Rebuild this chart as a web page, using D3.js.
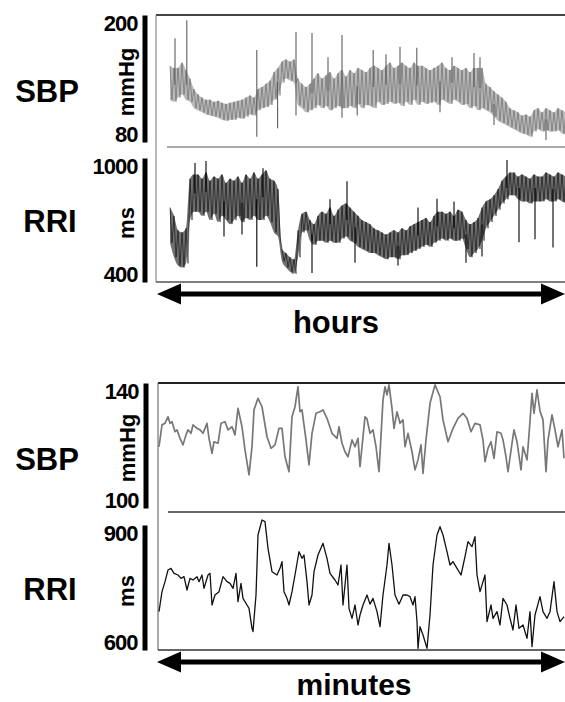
<!DOCTYPE html>
<html>
<head>
<meta charset="utf-8">
<script src="https://cdnjs.cloudflare.com/ajax/libs/d3/7.8.5/d3.min.js"></script>
<style>
  body { margin: 0; background: #fff; }
  text { font-family: "Liberation Sans", Arial, sans-serif; font-weight: bold; }
</style>
</head>
<body>
<svg id="chart" width="565" height="702"></svg>
<script>
// ---- hours panel: beat-to-beat band, upper / lower edge per time slot ----
var sbpHoursHi = [152,150,150,155,148,140,130,125,122,120, 120,118,119,117,116,117,118,119,120,122,
                  124,122,130,132,135,138,146,150,156,158, 156,158,140,135,132,135,140,145,140,143,
                  146,140,145,148,142,148,145,150,148,146, 150,152,150,148,152,155,150,152,155,152,
                  150,155,152,152,150,148,150,152,155,150, 148,152,150,148,150,146,150,150,150,135,
                  132,128,125,122,118,112,110,108,105,106, 104,110,112,108,112,110,108,112,110,108];
var sbpHoursLo = [120,118,122,125,120,118,112,110,108,106, 105,104,103,101,100,101,101,103,102,104,
                  106,105,110,112,113,115,120,124,136,140, 138,136,115,112,108,110,112,115,112,114,
                  110,112,114,112,112,114,112,116,112,115, 114,112,118,115,116,118,116,117,114,118,
                  115,120,115,118,116,117,118,115,120,118, 116,120,118,115,116,112,114,110,112,110,
                  108,104,100,98,96,94,92,90,88,87, 85,90,92,90,91,90,90,91,88,87];
var sbpSpikeIdx = [1.25, 4.2, 21.7, 21.7, 26.9, 31.5, 31.5, 35.5, 43, 43, 50.8, 57.5, 61.7, 76, 77.5, 46.8, 67.5, 39.5, 54, 70.5, 81, 94];
var sbpSpikeVal = [178, 195, 167, 85, 93, 184, 105, 183, 181, 103, 167, 170, 169, 164, 160, 105, 108, 160, 163, 160, 96, 82];

var rriHoursHi = [760,720,650,640,660,900,920,920,900,930, 890,910,900,920,880,900,890,910,880,920,
                  900,930,900,920,940,900,890,850,560,540, 520,510,650,730,740,700,680,720,740,730,
                  760,720,750,770,780,760,740,720,700,690, 680,660,650,640,630,640,650,640,660,650,
                  670,680,690,700,710,690,720,740,740,730, 740,720,750,740,700,680,690,710,760,790,
                  800,820,850,890,910,930,930,910,920,910, 900,920,910,910,930,920,910,930,920,910];
var rriHoursLo = [590,520,480,470,490,700,740,740,720,740, 700,730,690,720,700,680,700,720,690,710,
                  700,720,700,700,720,690,640,620,500,470, 450,440,520,640,650,600,580,600,600,590,
                  600,590,590,610,620,600,590,570,560,550, 540,540,530,520,510,520,520,510,530,530,
                  540,550,560,570,580,570,590,600,610,600, 610,600,600,610,560,520,540,560,600,660,
                  690,720,750,780,800,820,820,800,790,790, 780,790,790,790,800,790,790,800,790,780];
var rriSpikeIdx = [6.25, 21.7, 23.25, 35.5, 44.25, 46.25, 66.75, 74, 78, 84.25, 87.25, 91.25, 95.75, 13.5, 18, 9, 40, 57, 62, 71];
var rriSpikeVal = [976, 474, 951, 444, 887, 493, 803, 493, 523, 990, 592, 607, 567, 620, 630, 985, 800, 480, 760, 790];

// ---- minutes panel: single traces (time, value) ----
var sbpMinT = [1,4,7,10,12,14,17,19,22,25,28,30,33,35,39,42,45,49,51,54,56,60,63,67,70,74,77,80,84,87,
               91,94,96,100,104,109,113,117,121,124,127,131,134,137,140,142,144,148,151,154,158,162,165,169,174,
               179,181,184,187,190,194,197,200,
               202,207,209,212,215,218,221,225,227,229,231,234,236,239,242,245,247,250,254,257,260,263,265,268,
               272,277,282,285,290,295,300,305,309,313,317,322,325,327,330,333,336,339,343,345,348,350,354,356,
               359,363,365,369,371,374,376,379,382,385,388,390,394,397,400,404,406];
var sbpMinV = [119.6,126.6,127.1,129.2,127.1,127.6,124.4,125,122.3,120.2,123.4,125,123.9,126.6,125.5,125,123.9,127.1,
               122.3,117.5,121.2,120.7,127.1,127.6,125,126,123.4,131.9,126,118.6,110.6,119.6,131.4,135.1,132.4,122.8,
               119.1,120.2,125.5,125.5,116.4,111.6,129.2,132.4,138.8,130.8,131.4,121.8,113.8,123.9,130.3,130.8,131.4,
               128.7,123.9,122.3,126,120.7,118,116.4,121.8,119.6,122.3,
               113.2,129.2,128.5,123.9,125,119.6,111.6,134.6,138.8,136.2,139.4,131.9,125.5,130.8,127.1,128.2,119.6,
               123.9,118,112.2,115.4,120.2,111.1,121.8,133.5,139.4,135.6,128.2,121.2,125.5,128.7,130.3,128.7,124.4,
               127.1,126.6,121.8,114.8,119.1,121.2,115.9,124.4,123.9,121.8,116.4,111.6,120.7,125,121.2,112.2,119.6,
               115.4,123.4,136.7,130.3,137.8,131,128.2,111.6,121.8,129.8,125,119.6,125,115.9];

var rriMinT = [1,4,7,10,13,16,20,23,26,29,32,35,39,41,44,46,50,52,54,57,61,65,69,72,75,78,80,83,85,89,
               91,94,95,98,100,104,107,110,114,119,122,124,126,129,131,134,137,141,144,146,149,151,154,156,160,
               165,169,172,177,180,183,185,189,191,194,197,200,
               202,205,209,212,215,219,222,225,229,231,234,237,241,245,249,252,255,257,259,260,262,265,269,272,
               275,279,282,285,289,292,295,299,303,307,310,314,317,319,322,325,327,329,333,335,339,342,345,349,
               352,355,358,361,365,369,372,374,377,382,385,389,392,396,399,402,406];
var rriMinV = [692,740,764,792,796,784,780,772,776,744,772,768,776,764,780,748,780,784,708,732,740,776,764,760,748,
               784,716,760,724,708,700,652,644,732,876,912,908,844,788,780,796,812,740,724,708,740,780,836,820,828,
               764,708,732,788,828,856,820,784,768,756,804,708,804,700,676,708,660,
               684,708,732,710,724,692,656,732,804,856,804,732,710,732,732,728,708,728,668,604,656,636,604,684,
               804,876,896,876,836,804,812,796,780,824,860,848,872,780,740,764,780,668,708,676,692,660,724,708,
               676,648,708,652,660,628,692,608,684,728,692,676,692,764,692,668,680];

var svg = d3.select("#chart");

// scales
var xHours = d3.scaleLinear().domain([0, 99]).range([170, 566]);
var ySbpH = d3.scaleLinear().domain([80, 200]).range([142, 15]);
var yRriH = d3.scaleLinear().domain([400, 1000]).range([282, 158]);
var xMin = d3.scaleLinear().domain([0, 410]).range([158, 568]);
var ySbpM = d3.scaleLinear().domain([100, 140]).range([508, 383]);
var yRriM = d3.scaleLinear().domain([600, 900]).range([650, 525]);

function hline(y, x1, x2, color, w) {
  svg.append("line").attr("x1", x1).attr("x2", x2).attr("y1", y).attr("y2", y)
     .attr("stroke", color).attr("stroke-width", w);
}
function vline(x, y1, y2, color, w) {
  svg.append("line").attr("x1", x).attr("x2", x).attr("y1", y1).attr("y2", y2)
     .attr("stroke", color).attr("stroke-width", w);
}

// boxes
hline(15, 156, 570, "#444", 2);
vline(156, 15, 282, "#777", 1);
hline(147, 167, 570, "#aaa", 2);
hline(282, 156, 570, "#555", 1.5);

hline(383, 158, 570, "#222", 2);
vline(158, 383, 650, "#555", 1);
hline(512, 168, 570, "#333", 1.5);
hline(650, 158, 570, "#333", 1.5);

// band trace: filled envelope + zig-zag between edges + spikes
function band(hi, lo, y, fill, fillOp, stroke, sIdx, sVal) {
  var pts = [];
  hi.forEach(function(v, i) { pts.push([i, v]); pts.push([i + 0.5, lo[i]]); });
  svg.append("path")
     .attr("d", d3.area().x(function(d, i){ return xHours(i); })
                 .y0(function(d, i){ return y(lo[i]); })
                 .y1(function(d){ return y(d); })
                 .curve(d3.curveMonotoneX)(hi))
     .attr("fill", fill).attr("opacity", fillOp);
  svg.append("path")
     .attr("d", d3.line().x(function(p){ return xHours(p[0]); }).y(function(p){ return y(p[1]); })(pts))
     .attr("fill", "none").attr("stroke", stroke).attr("stroke-width", 0.7).attr("opacity", 0.8);
  sIdx.forEach(function(idx, k) {
    var i = Math.min(99, Math.round(idx));
    var mid = (hi[i] + lo[i]) / 2;
    svg.append("line")
       .attr("x1", xHours(idx)).attr("x2", xHours(idx))
       .attr("y1", y(mid)).attr("y2", y(sVal[k]))
       .attr("stroke", stroke).attr("stroke-width", 1.1);
  });
}
band(sbpHoursHi, sbpHoursLo, ySbpH, "#8a8a8a", 0.6, "#5e5e5e", sbpSpikeIdx, sbpSpikeVal);
band(rriHoursHi, rriHoursLo, yRriH, "#333", 0.7, "#000", rriSpikeIdx, rriSpikeVal);

// minute traces
svg.append("path")
   .attr("d", d3.line().x(function(t){ return xMin(t); }).y(function(t, i){ return ySbpM(sbpMinV[i]); })(sbpMinT))
   .attr("fill", "none").attr("stroke", "#777").attr("stroke-width", 1.7).attr("stroke-linejoin", "round");
svg.append("path")
   .attr("d", d3.line().x(function(t){ return xMin(t); }).y(function(t, i){ return yRriM(rriMinV[i]); })(rriMinT))
   .attr("fill", "none").attr("stroke", "#111").attr("stroke-width", 1.3).attr("stroke-linejoin", "round");

// y axes: thick bar with end labels
function yAxis(scale, x, vals) {
  var g = svg.append("g").attr("transform", "translate(" + x + ",0)")
    .call(d3.axisLeft(scale).tickValues(vals).tickFormat(d3.format("d"))
            .tickSize(0).tickSizeOuter(0).tickPadding(7));
  g.attr("font-size", 22).attr("font-family", "'Liberation Sans', Arial, sans-serif");
  g.select(".domain").attr("stroke", "#000").attr("stroke-width", 5);
  g.selectAll("text").attr("fill", "#000").attr("font-weight", "bold")
   .attr("letter-spacing", -1)
   .attr("dy", function(d){ return d === vals[1] ? "0.7em" : "-0.02em"; });
}
yAxis(ySbpH, 144.5, [80, 200]);
yAxis(yRriH, 144.5, [400, 1000]);
yAxis(ySbpM, 145.5, [100, 140]);
yAxis(yRriM, 144.5, [600, 900]);

// unit labels
function unit(txt, x, y) {
  svg.append("text").attr("transform", "translate(" + x + "," + y + ") rotate(-90)")
     .attr("text-anchor", "middle").attr("font-size", 22).text(txt);
}
unit("mmHg", 134, 82);
unit("ms", 133.5, 223);
unit("mmHg", 135, 448);
unit("ms", 133.5, 591);

// big labels
function label(txt, x, y) {
  svg.append("text").attr("x", x).attr("y", y).attr("text-anchor", "middle")
     .attr("font-size", 31).text(txt);
}
label("SBP", 47, 102);
label("RRI", 50, 232);
label("SBP", 47, 470);
label("RRI", 50, 600);

// double-headed arrows
function arrow(y, x1, x2) {
  hline(y, x1 + 18, x2 - 18, "#000", 5);
  svg.append("path").attr("d", "M" + x1 + "," + y + "L" + (x1 + 24) + "," + (y - 10.5) + "L" + (x1 + 24) + "," + (y + 10.5) + "Z");
  svg.append("path").attr("d", "M" + x2 + "," + y + "L" + (x2 - 24) + "," + (y - 10.5) + "L" + (x2 - 24) + "," + (y + 10.5) + "Z");
}
arrow(294, 157, 565);
arrow(662, 157, 565);

svg.append("text").attr("x", 336).attr("y", 333).attr("text-anchor", "middle").attr("font-size", 31).text("hours");
svg.append("text").attr("x", 354).attr("y", 695).attr("text-anchor", "middle").attr("font-size", 30).text("minutes");
</script>
</body>
</html>
